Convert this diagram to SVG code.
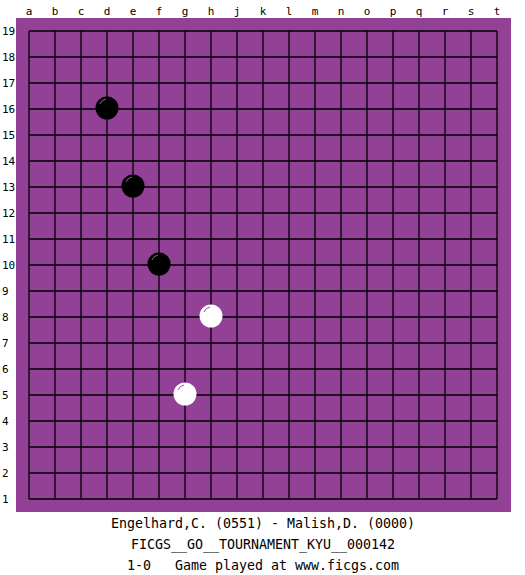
<svg xmlns="http://www.w3.org/2000/svg" width="525" height="575" viewBox="0 0 525 575">
<defs>
<style>
.lbl{font-family:"DejaVu Sans Mono","Liberation Mono",monospace;font-size:11px;fill:#000}
.cap{font-family:"DejaVu Sans Mono","Liberation Mono",monospace;font-size:13.3px;fill:#000;text-anchor:middle}
.g{stroke:#000;stroke-width:1.3;fill:none}
.b{fill:#000}
.w{fill:#fff}
.hb{fill:none;stroke:#777;stroke-width:1}
.hw{fill:none;stroke:#8a5a8c;stroke-width:1}
</style>
</defs>
<rect width="525" height="575" fill="#fff"/>
<rect x="16" y="18" width="495" height="494" fill="#924196"/>
<g id="grid" class="g">
<path d="M29 31H497M29 57H497M29 83H497M29 109H497M29 135H497M29 161H497M29 187H497M29 213H497M29 239H497M29 265H497M29 291H497M29 317H497M29 343H497M29 369H497M29 395H497M29 421H497M29 447H497M29 473H497M29 499H497"/>
<path d="M29 31V499M55 31V499M81 31V499M107 31V499M133 31V499M159 31V499M185 31V499M211 31V499M237 31V499M263 31V499M289 31V499M315 31V499M341 31V499M367 31V499M393 31V499M419 31V499M445 31V499M471 31V499M497 31V499"/>
</g>
<g id="col-labels" class="lbl" text-anchor="middle">
<text x="29" y="15">a</text><text x="55" y="15">b</text><text x="81" y="15">c</text><text x="107" y="15">d</text><text x="133" y="15">e</text><text x="159" y="15">f</text><text x="185" y="15">g</text><text x="211" y="15">h</text><text x="237" y="15">j</text><text x="263" y="15">k</text><text x="289" y="15">l</text><text x="315" y="15">m</text><text x="341" y="15">n</text><text x="367" y="15">o</text><text x="393" y="15">p</text><text x="419" y="15">q</text><text x="445" y="15">r</text><text x="471" y="15">s</text><text x="497" y="15">t</text>
</g>
<g id="row-labels" class="lbl">
<text x="2" y="35">19</text><text x="2" y="61">18</text><text x="2" y="87">17</text><text x="2" y="113">16</text><text x="2" y="139">15</text><text x="2" y="165">14</text><text x="2" y="191">13</text><text x="2" y="217">12</text><text x="2" y="243">11</text><text x="2" y="269">10</text><text x="2" y="295">9</text><text x="2" y="321">8</text><text x="2" y="347">7</text><text x="2" y="373">6</text><text x="2" y="399">5</text><text x="2" y="425">4</text><text x="2" y="451">3</text><text x="2" y="477">2</text><text x="2" y="503">1</text>
</g>
<g id="stone-d16"><circle class="b" cx="107" cy="108" r="11.5"/><path class="hb" d="M100 104A8 8 0 0 1 106 99"/></g>
<g id="stone-e13"><circle class="b" cx="133" cy="186" r="11.5"/><path class="hb" d="M126 182A8 8 0 0 1 132 177"/></g>
<g id="stone-f10"><circle class="b" cx="159" cy="264" r="11.5"/><path class="hb" d="M152 260A8 8 0 0 1 158 255"/></g>
<g id="stone-h8"><circle class="w" cx="211" cy="316" r="11.5"/><path class="hw" d="M204 312A8 8 0 0 1 210 307"/></g>
<g id="stone-g5"><circle class="w" cx="185" cy="394" r="11.5"/><path class="hw" d="M178 390A8 8 0 0 1 184 385"/></g>
<g id="caption" class="cap">
<text x="263" y="528">Engelhard,C. (0551) - Malish,D. (0000)</text>
<text x="263" y="549">FICGS__GO__TOURNAMENT_KYU__000142</text>
<text x="263" y="570" xml:space="preserve">1-0   Game played at www.ficgs.com</text>
</g>
</svg>
